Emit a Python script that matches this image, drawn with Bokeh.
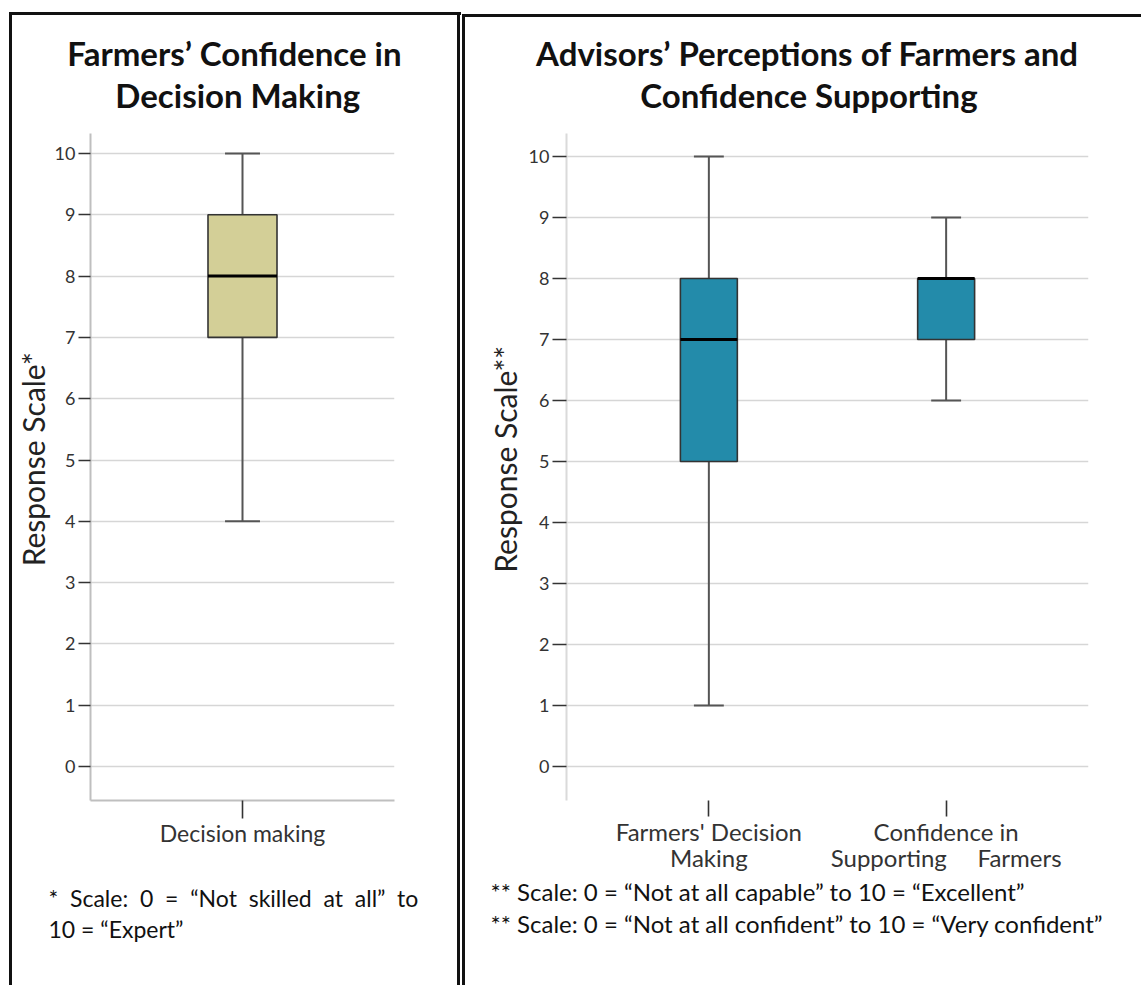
from bokeh.plotting import figure
from bokeh.models import FactorRange, Range1d, Title, ColumnDataSource
from bokeh.layouts import row
from bokeh.transform import dodge
from bokeh.embed import file_html
from bokeh.resources import INLINE

# ---------------- data ----------------
left_cats = ["Decision making"]
left_lower = [4]
left_q1 = [7]
left_median = [8]
left_q3 = [9]
left_upper = [10]

right_cats = ["Farmers' Decision\nMaking", "Confidence in\nSupporting\u00a0\u00a0\u00a0\u00a0 Farmers"]
right_lower = [1, 6]
right_q1 = [5, 7]
right_median = [7, 8]
right_q3 = [8, 8]
right_upper = [10, 9]

y_ticks = [0, 1, 2, 3, 4, 5, 6, 7, 8, 9, 10]

NB = "\u00a0"
left_title = "Farmers’ Confidence in" + NB * 2 + "\n" + NB * 6 + "Decision Making"
right_title = ("Advisors’ Perceptions of Farmers and" + NB * 5 + "\n"
               + NB * 13 + "Confidence Supporting")
left_note = ("*\u00a0 Scale:\u00a0 0\u00a0 =\u00a0 “Not\u00a0 skilled\u00a0 at\u00a0 all”\u00a0 to\n"
             "10 = “Expert”")
right_note = ("** Scale: 0 = “Not at all capable” to 10 = “Excellent”\n"
              "** Scale: 0 = “Not at all confident” to 10 = “Very confident”")
left_ylabel = NB * 2 + "Response Scale*"
right_ylabel = NB * 2 + "Response Scale**"

FONT = "Lato"
LEFT_FILL = "#D3CF97"
RIGHT_FILL = "#238BAA"
INK = "#111111"
H = 985


def style_common(p, axis_line_col):
    p.outline_line_color = None
    p.border_fill_color = None
    p.xgrid.visible = False
    p.ygrid.ticker = y_ticks
    p.ygrid.grid_line_color = "#d6d6d6"
    p.ygrid.grid_line_width = 1.6
    p.yaxis.ticker = y_ticks
    for ax in (p.xaxis[0], p.yaxis[0]):
        ax.major_label_text_font = FONT
        ax.major_label_text_color = "#333333"
        ax.major_tick_line_color = "#333333"
        ax.major_tick_line_width = 1.6
        ax.major_tick_in = 0
        ax.minor_tick_line_color = None
        ax.axis_line_color = axis_line_col
        ax.axis_line_width = 2
        ax.axis_label_text_font = FONT
        ax.axis_label_text_font_style = "normal"
        ax.axis_label_text_color = "#222222"
    p.yaxis.major_label_text_font_size = "18px"
    p.yaxis.axis_label_text_font_size = "30px"


def draw_boxes(p, cats, lower, q1, med, q3, upper, box_w, cap_w, fill):
    src = ColumnDataSource(dict(x=cats, lower=lower, q1=q1, med=med, q3=q3, upper=upper))
    cl = dodge("x", -cap_w / 2, range=p.x_range)
    cr = dodge("x", cap_w / 2, range=p.x_range)
    bl = dodge("x", -box_w / 2, range=p.x_range)
    br = dodge("x", box_w / 2, range=p.x_range)
    p.segment(x0="x", y0="q3", x1="x", y1="upper", source=src, line_color="#555555", line_width=2)
    p.segment(x0="x", y0="lower", x1="x", y1="q1", source=src, line_color="#555555", line_width=2)
    p.segment(x0=cl, y0="upper", x1=cr, y1="upper", source=src, line_color="#555555", line_width=2)
    p.segment(x0=cl, y0="lower", x1=cr, y1="lower", source=src, line_color="#555555", line_width=2)
    p.vbar(x="x", bottom="q1", top="q3", width=box_w, source=src, fill_color=fill,
           line_color="#333333", line_width=1.6)
    p.segment(x0=bl, y0="med", x1=br, y1="med", source=src, line_color="#000000", line_width=3)


def panel_border(left, top, right=None):
    # CSS lines framing a panel (drawn behind the transparent canvas border area)
    imgs, sizes, pos = [], [], []
    imgs.append(f"linear-gradient({INK},{INK})"); sizes.append("3px 100%"); pos.append(f"{left}px {top}px")
    imgs.append(f"linear-gradient({INK},{INK})"); sizes.append("100% 3px"); pos.append(f"{left}px {top}px")
    if right is not None:
        imgs.append(f"linear-gradient({INK},{INK})"); sizes.append("3px 100%"); pos.append(f"{right}px {top}px")
    return {
        "background-color": "white",
        "background-image": ", ".join(imgs),
        "background-size": ", ".join(sizes),
        "background-position": ", ".join(pos),
        "background-repeat": "no-repeat",
    }


# ---------------- left panel ----------------
p1 = figure(width=461, height=H, x_range=FactorRange(*left_cats),
            y_range=Range1d(-0.553, 10.325), output_backend="svg", toolbar_location=None,
            min_border_left=90, min_border_right=67, min_border_top=133,
            min_border_bottom=H - 802)
style_common(p1, "#bfbfbf")
p1.yaxis.axis_label = left_ylabel
p1.yaxis.major_tick_out = 12
p1.yaxis.major_label_standoff = 3
p1.yaxis.axis_label_standoff = 1
p1.xaxis.major_tick_out = 18
p1.xaxis.major_label_standoff = 0
p1.xaxis.major_label_text_font_size = "23px"
draw_boxes(p1, left_cats, left_lower, left_q1, left_median, left_q3, left_upper,
           0.227, 0.115, LEFT_FILL)
p1.add_layout(Title(text=left_title, align="center", text_font=FONT,
                    text_font_size="33px", text_font_style="bold", standoff=37,
                    text_line_height=1.06, text_color=INK), "above")
p1.add_layout(Title(text=left_note, align="left", offset=-42, text_font=FONT,
                    text_font_size="23px", text_font_style="normal",
                    text_line_height=1.12, standoff=66, text_color=INK), "below")
p1.styles = panel_border(9, 12, 457)

# ---------------- right panel ----------------
p2 = figure(width=680, height=H, x_range=FactorRange(*right_cats, range_padding=0.1),
            y_range=Range1d(-0.557, 10.377), output_backend="svg", toolbar_location=None,
            min_border_left=105, min_border_right=53, min_border_top=133,
            min_border_bottom=H - 800)
style_common(p2, "#dadada")
p2.xaxis.axis_line_color = None
p2.yaxis.axis_label = right_ylabel
p2.yaxis.major_tick_out = 14
p2.yaxis.major_label_standoff = 3
p2.yaxis.axis_label_standoff = 3
p2.xaxis.major_tick_out = 16
p2.xaxis.major_label_standoff = 0
p2.xaxis.major_label_text_font_size = "24px"
p2.xaxis.major_label_text_line_height = 0.92
draw_boxes(p2, right_cats, right_lower, right_q1, right_median, right_q3, right_upper,
           0.24, 0.126, RIGHT_FILL)
p2.add_layout(Title(text=right_title, align="center", text_font=FONT,
                    text_font_size="33px", text_font_style="bold", standoff=37,
                    text_line_height=1.06, text_color=INK), "above")
p2.add_layout(Title(text=right_note, align="left", offset=-76, text_font=FONT,
                    text_font_size="24px", text_font_style="normal",
                    text_line_height=1.11, standoff=0, text_color=INK), "below")
p2.styles = panel_border(1, 14)

layout = row(p1, p2, spacing=0)
open("out.html", "w").write(file_html(layout, INLINE))
